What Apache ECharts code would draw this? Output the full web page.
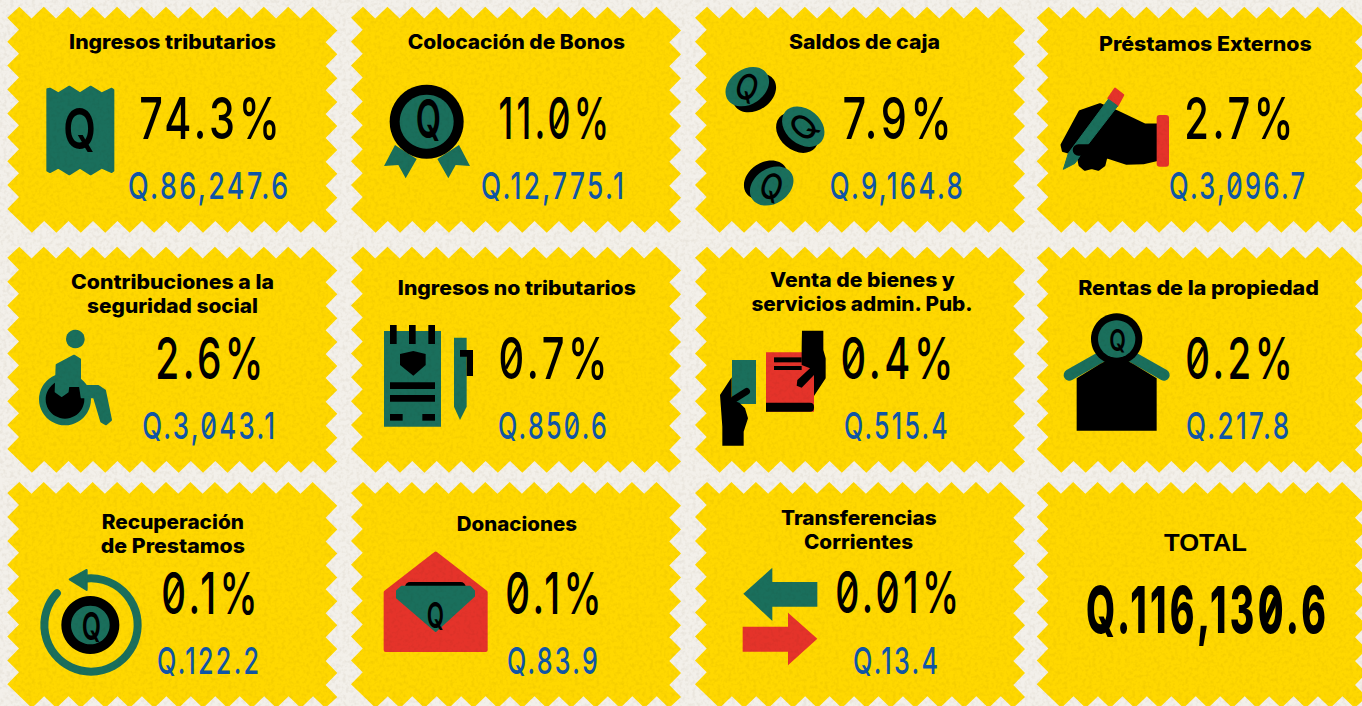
<!DOCTYPE html>
<html>
<head>
<meta charset="utf-8">
<style>
html, body { margin: 0; padding: 0; background: #f3f0ea; overflow: hidden; }
#main { width: 1362px; height: 706px; }
/* digit styling: the svg renderer keeps text as <text>, css can space it */
text[style*="numfont"] { letter-spacing: 0.09em; }
#paper { position: fixed; left: 0; top: 0; width: 1362px; height: 706px; mix-blend-mode: multiply; pointer-events: none; opacity: .16; }
</style>
</head>
<body>
<div id="main"></div>
<svg id="paper">
  <filter id="grain" x="0" y="0" width="100%" height="100%">
    <feTurbulence type="fractalNoise" baseFrequency="0.28" numOctaves="2" seed="4"/>
    <feColorMatrix values="0 0 0 0 .55  0 0 0 0 .5  0 0 0 0 .4  3 0 0 0 -1.3"/>
  </filter>
  <rect width="1362" height="706" filter="url(#grain)"/>
</svg>
<script src="https://cdn.jsdelivr.net/npm/echarts@6/dist/echarts.min.js"></script>
<script>
'use strict';

var categories = [
    'Ingresos tributarios', 'Colocación de Bonos', 'Saldos de caja', 'Préstamos Externos',
    'Contribuciones a la\nseguridad social', 'Ingresos no tributarios', 'Venta de bienes y\nservicios admin. Pub.', 'Rentas de la propiedad',
    'Recuperación\nde Prestamos', 'Donaciones', 'Transferencias\nCorrientes', 'TOTAL'
];
var percents = [74.3, 11.0, 7.9, 2.7, 2.6, 0.7, 0.4, 0.2, 0.1, 0.1, 0.01, null];
var amounts = [86247.6, 12775.1, 9164.8, 3096.7, 3043.1, 850.6, 515.4, 217.8, 122.2, 83.9, 13.4, 116130.6];

// card corners
var CARD_X = [7.3, 351, 695, 1036.7];
var CARD_Y = [6.7, 246.7, 482];
var CARD_W = 330, CARD_H = 226;

// [left, right, middle y] per line of title
var TITLE_BOX = [
    [[69, 276, 42]], [[407.7, 625, 42]], [[789, 940, 42]], [[1099, 1311.7, 44]],
    [[71, 274, 282], [87, 258, 306]], [[397.7, 636, 288]], [[770, 955, 280], [751, 973, 304]], [[1078, 1319, 288]],
    [[101.7, 244, 522], [100.7, 245, 546]], [[456.7, 577, 524]], [[781, 936.7, 518], [804, 913, 542]], [[1164, 1247, 543]]
];
var PCT_BOX = [
    [140.7, 278, 118], [500, 607.5, 118], [844, 950, 118], [1185.7, 1291.7, 118],
    [156.7, 261.7, 358], [500, 605.7, 358], [842, 951.7, 358], [1186.7, 1291, 358],
    [162.7, 256, 592.7], [506.7, 600, 592.7], [836.7, 957.3, 592.7]
];
var AMT_BOX = [
    [129, 287, 185.5], [482, 622.7, 185.5], [830.7, 961.7, 185.5], [1170, 1304, 185.5],
    [143, 274, 425.5], [499, 605.7, 425.5], [845, 946.7, 425.5], [1187, 1288, 425.5],
    [158, 258, 661], [508, 596.7, 661], [854, 937, 661], [1087.7, 1324, 610]
];

var YELLOW = '#ffd800', GREEN = '#1a6f5c', RED = '#e5332a', BLUE = '#0f56a8', BLACK = '#000';
var TITLE_FONT = '800 20px Inter';
var NUM_FAMILY = 'Inter, numfont';
var SPACING = 0.09;

var measure = document.createElement('canvas').getContext('2d');

function fitText(str, x0, x1, y, font, fill) {
    measure.font = font;
    return {
        type: 'text', x: (x0 + x1) / 2, y: y, scaleX: (x1 - x0) / measure.measureText(str).width,
        style: { text: str, font: font, fill: fill, align: 'center', verticalAlign: 'middle' }
    };
}

// spaced digits, with a slash drawn through each zero like the original typeface
function numberText(str, b, px, weight, fill) {
    var font = weight + ' ' + px + 'px ' + NUM_FAMILY;
    var sp = SPACING * px;
    // side bearings of the first and last glyph
    var x0 = b[0] - 0.025 * px, x1 = b[1] + 0.03 * px;
    measure.font = font;
    var s = (x1 - x0) / (measure.measureText(str).width + sp * (str.length - 1));
    var zeroW = measure.measureText('0').width;
    var out = [{
        type: 'text', x: (x0 + x1) / 2 + sp * s / 2, y: b[2], scaleX: s,
        style: { text: str, font: font, fill: fill, align: 'center', verticalAlign: 'middle' }
    }];
    for (var k = 0; k < str.length; k++) {
        if (str[k] !== '0') continue;
        var cx = x0 + s * (measure.measureText(str.slice(0, k)).width + sp * k + zeroW / 2);
        out.push({
            type: 'line',
            shape: { x1: cx - 0.14 * px * s, y1: b[2] + 0.18 * px, x2: cx + 0.14 * px * s, y2: b[2] - 0.18 * px },
            style: { stroke: fill, lineWidth: px * (weight > 600 ? 0.09 : 0.055) }
        });
    }
    return out;
}

// the zigzag outline of a card, teeth at 45 degrees
function cardPoints(x, y) {
    var pts = [], i, d = 11.7, topStep = 24.45, sideStep = 23.9;
    for (i = 0; i < 13; i++) {
        pts.push([x + 12 + i * topStep, y]);
        if (i < 12) pts.push([x + 12 + (i + 0.5) * topStep, y + d]);
    }
    for (i = 0; i < 9; i++) {
        pts.push([x + CARD_W, y + 23.7 + i * sideStep]);
        if (i < 8) pts.push([x + CARD_W - d, y + 23.7 + (i + 0.5) * sideStep]);
    }
    for (i = 0; i < 13; i++) {
        pts.push([x + CARD_W - 12 - i * topStep, y + CARD_H]);
        if (i < 12) pts.push([x + CARD_W - 12 - (i + 0.5) * topStep, y + CARD_H - d]);
    }
    for (i = 0; i < 9; i++) {
        pts.push([x, y + CARD_H - 23.7 - i * sideStep]);
        if (i < 8) pts.push([x + d, y + CARD_H - 23.7 - (i + 0.5) * sideStep]);
    }
    return pts;
}

// icons are traced in 3x zoom units relative to an origin
function poly(ox, oy, pts, fill, round) {
    return {
        type: 'polygon',
        shape: { points: pts.map(function (p) { return [ox + p[0] / 3, oy + p[1] / 3]; }) },
        style: { fill: fill, stroke: round ? fill : null, lineWidth: round || 0, lineJoin: 'round' }
    };
}
function box(ox, oy, x0, y0, x1, y1, fill, r) {
    return {
        type: 'rect',
        shape: { x: ox + x0 / 3, y: oy + y0 / 3, width: (x1 - x0) / 3, height: (y1 - y0) / 3, r: r || 0 },
        style: { fill: fill }
    };
}
function disc(ox, oy, cx, cy, r, fill) {
    return { type: 'circle', shape: { cx: ox + cx / 3, cy: oy + cy / 3, r: r / 3 }, style: { fill: fill } };
}
function stick(ox, oy, x1, y1, x2, y2, w, color) {
    return {
        type: 'line',
        shape: { x1: ox + x1 / 3, y1: oy + y1 / 3, x2: ox + x2 / 3, y2: oy + y2 / 3 },
        style: { stroke: color, lineWidth: w / 3, lineCap: 'round' }
    };
}
function letterQ(ox, oy, x0, x1, cy, size) {
    return fitText('Q', ox + x0 / 3, ox + x1 / 3, oy + cy / 3, '600 ' + size + 'px Inter', BLACK);
}
function coin(x, y, rot, dx, dy, qRot) {
    return [
        { type: 'ellipse', x: x + dx, y: y + dy, rotation: rot, shape: { cx: 0, cy: 0, rx: 23.5, ry: 17.5 }, style: { fill: BLACK } },
        { type: 'ellipse', x: x, y: y, rotation: rot, shape: { cx: 0, cy: 0, rx: 23.5, ry: 17.5 }, style: { fill: GREEN } },
        { type: 'text', x: x, y: y, scaleX: 0.8, rotation: qRot, style: { text: 'Q', font: '500 36px Inter', fill: BLACK, align: 'center', verticalAlign: 'middle' } }
    ];
}

var icons = [
    function () {
        return [
            poly(0, 0, [[142, 268], [150, 266], [175, 280], [208, 260], [240, 280], [272, 260], [305, 280], [335, 266], [340, 270], [340, 512], [335, 516], [305, 503], [272, 523], [240, 503], [208, 523], [175, 503], [150, 516], [142, 512]], GREEN, 2),
            letterQ(0, 0, 190, 288, 385, 56)
        ];
    },
    function () {
        var o = 345;
        return [
            poly(o, 0, [[150, 435], [117, 498], [160, 495], [182, 535], [215, 477]], GREEN),
            poly(o, 0, [[342, 435], [375, 498], [332, 495], [310, 535], [277, 477]], GREEN),
            disc(o, 0, 245, 365, 111, BLACK),
            disc(o, 0, 245, 365, 81, GREEN),
            letterQ(o, 0, 212, 288, 357, 54)
        ];
    },
    function () {
        return coin(747.3, 86.7, 0.6, 7, 6, -0.35).concat(coin(803.3, 126.7, -0.7, -6, 6, 0.85), coin(771.7, 186, 0.6, -6, -6, -0.35));
    },
    function () {
        var o = 1030;
        return [
            poly(o, 0, [[235, 295], [255, 266], [280, 285], [262, 318]], RED, 2),
            poly(o, 0, [[96, 435], [150, 335], [210, 314], [260, 335], [345, 375], [385, 375], [385, 478], [340, 488], [290, 490], [228, 470], [222, 495], [205, 508], [185, 503], [165, 508], [150, 495], [145, 470], [128, 460], [100, 452]], BLACK, 3),
            poly(o, 0, [[235, 298], [263, 318], [165, 445], [135, 490], [100, 508], [115, 460]], GREEN, 1),
            stick(o, 0, 145, 450, 225, 450, 34, BLACK),
            box(o, 0, 380, 345, 417, 500, RED, 3)
        ];
    },
    function () {
        var oy = 240;
        return [
            disc(0, oy, 226, 297, 28, GREEN),
            disc(0, oy, 195, 478, 78, GREEN),
            disc(0, oy, 195, 478, 58, BLACK),
            poly(0, oy, [[170, 375], [222, 347], [240, 358], [240, 438], [205, 438], [203, 455], [185, 468], [167, 455]], GREEN, 2),
            poly(0, oy, [[240, 438], [295, 438], [315, 452], [333, 540], [318, 553], [304, 545], [282, 472], [245, 472]], GREEN, 2)
        ];
    },
    function () {
        var o = 345, oy = 240;
        return [
            box(o, oy, 117, 273, 288, 560, GREEN),
            box(o, oy, 135, 255, 155, 312, BLACK),
            box(o, oy, 192, 255, 212, 312, BLACK),
            box(o, oy, 250, 255, 270, 312, BLACK),
            poly(o, oy, [[165, 342], [205, 333], [242, 342], [242, 375], [205, 407], [165, 375]], BLACK),
            box(o, oy, 135, 427, 270, 447, BLACK),
            box(o, oy, 135, 465, 270, 485, BLACK),
            box(o, oy, 135, 522, 173, 542, BLACK),
            box(o, oy, 232, 522, 270, 542, BLACK),
            poly(o, oy, [[327, 293], [365, 293], [365, 500], [345, 540], [327, 500]], GREEN),
            poly(o, oy, [[345, 330], [384, 330], [384, 408], [365, 408], [365, 350], [345, 350]], BLACK)
        ];
    },
    function () {
        var o = 690, oy = 240;
        return [
            box(o, oy, 228, 337, 372, 515, RED),
            box(o, oy, 228, 488, 372, 515, BLACK, [0, 4, 4, 0]),
            box(o, oy, 252, 352, 335, 367, BLACK),
            box(o, oy, 252, 378, 335, 390, BLACK),
            poly(o, oy, [[336, 272], [400, 272], [400, 330], [407, 355], [407, 415], [372, 468], [372, 405], [335, 443], [320, 437], [322, 420], [360, 385], [335, 375], [335, 320]], BLACK),
            box(o, oy, 126, 360, 198, 492, GREEN),
            poly(o, oy, [[125, 412], [90, 465], [97, 560], [97, 617], [161, 617], [161, 575], [174, 535], [165, 505], [148, 488], [125, 480]], BLACK),
            stick(o, oy, 132, 478, 170, 454, 20, BLACK)
        ];
    },
    function () {
        var o = 1030, oy = 240;
        return [
            stick(o, oy, 118, 405, 215, 350, 34, GREEN),
            stick(o, oy, 305, 350, 402, 405, 34, GREEN),
            poly(o, oy, [[140, 415], [210, 372], [260, 345], [310, 372], [380, 415], [380, 572], [140, 572]], BLACK),
            disc(o, oy, 260, 297, 77, BLACK),
            disc(o, oy, 260, 297, 56, GREEN),
            letterQ(o, oy, 238, 288, 300, 30)
        ];
    },
    function () {
        var oy = 476;
        return [
            {
                type: 'arc',
                shape: { cx: 273 / 3, cy: oy + 447 / 3, r: 140 / 3, startAngle: 260 * Math.PI / 180, endAngle: 583 * Math.PI / 180, clockwise: true },
                style: { stroke: GREEN, lineWidth: 8, lineCap: 'round', fill: null }
            },
            poly(0, oy, [[260, 282], [260, 342], [209, 310]], GREEN, 2),
            disc(0, oy, 271, 447, 87, BLACK),
            disc(0, oy, 271, 447, 58, GREEN),
            letterQ(0, oy, 245, 303, 450, 38)
        ];
    },
    function () {
        var o = 345, oy = 476;
        return [
            poly(o, oy, [[272, 233], [422, 349], [422, 522], [122, 522], [122, 349]], RED, 4),
            box(o, oy, 180, 318, 362, 350, BLACK, 5),
            poly(o, oy, [[170, 332], [375, 332], [387, 345], [387, 360], [272, 465], [156, 365], [156, 345]], GREEN, 2),
            letterQ(o, oy, 245, 297, 416, 36)
        ];
    },
    function () {
        var o = 690, oy = 476;
        return [
            poly(o, oy, [[160, 353], [247, 275], [247, 318], [382, 318], [382, 392], [247, 392], [247, 435]], GREEN),
            poly(o, oy, [[382, 488], [294, 410], [294, 452], [158, 452], [158, 527], [294, 527], [294, 568]], RED)
        ];
    },
    function () { return []; }
];

function pctLabel(v) {
    return v.toLocaleString('en-US', { minimumFractionDigits: 1 }) + '%';
}
function amtLabel(v) {
    return 'Q.' + v.toLocaleString('en-US', { minimumFractionDigits: 1 });
}

function renderCard(params, api) {
    var i = api.value(0);
    var col = i % 4, row = Math.floor(i / 4);
    var kids = [{
        type: 'polygon',
        shape: { points: cardPoints(CARD_X[col], CARD_Y[row]) },
        style: { fill: YELLOW }
    }];
    kids = kids.concat(icons[i]());
    categories[i].split('\n').forEach(function (line, k) {
        var b = TITLE_BOX[i][k];
        var font = i === 11 ? '700 24px "Liberation Sans"' : TITLE_FONT;
        kids.push(fitText(line, b[0], b[1], b[2], font, BLACK));
    });
    if (i < 11) {
        kids = kids.concat(numberText(pctLabel(percents[i]), PCT_BOX[i], 58, 500, BLACK));
        kids = kids.concat(numberText(amtLabel(amounts[i]), AMT_BOX[i], 37, 500, BLUE));
    } else {
        kids = kids.concat(numberText(amtLabel(amounts[i]), AMT_BOX[i], 65, 800, BLACK));
    }
    return { type: 'group', children: kids };
}

var myChart = echarts.init(document.getElementById('main'), null, { renderer: 'svg' });
myChart.setOption({
    backgroundColor: '#f3f0ea',
    animation: false,
    series: [{
        type: 'custom',
        coordinateSystem: 'none',
        silent: true,
        renderItem: renderCard,
        data: categories.map(function (c, i) { return [i, percents[i], amounts[i]]; })
    }]
});
</script>
</body>
</html>
